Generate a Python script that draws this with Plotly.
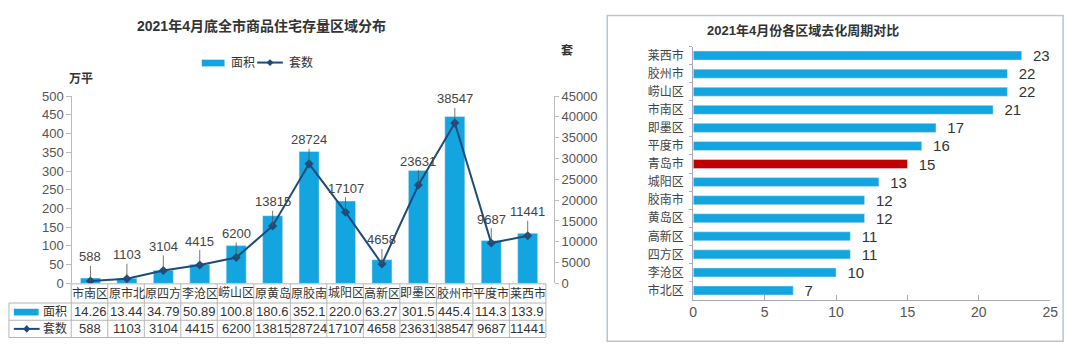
import plotly.graph_objects as go

W, H = 1080, 357
def fx(px): return px / W
def fy(py): return 1 - py / H

FONT = "Liberation Sans, Noto Sans CJK SC, sans-serif"

# ---- data ----
districts = ["市南区", "原市北", "原四方", "李沧区", "崂山区", "原黄岛", "原胶南",
             "城阳区", "高新区", "即墨区", "胶州市", "平度市", "莱西市"]
area = [14.26, 13.44, 34.79, 50.89, 100.8, 180.6, 352.1, 220.0, 63.27, 301.5, 445.4, 114.3, 133.9]
area_text = ["14.26", "13.44", "34.79", "50.89", "100.8", "180.6", "352.1", "220.0",
             "63.27", "301.5", "445.4", "114.3", "133.9"]
units = [588, 1103, 3104, 4415, 6200, 13815, 28724, 17107, 4658, 23631, 38547, 9687, 11441]

cycle_regions = ["莱西市", "胶州市", "崂山区", "市南区", "即墨区", "平度市", "青岛市",
                 "城阳区", "胶南市", "黄岛区", "高新区", "四方区", "李沧区", "市北区"]
cycle_months = [23, 22, 22, 21, 17, 16, 15, 13, 12, 12, 11, 11, 10, 7]

BLUE = "#12a5df"
NAVY = "#1f4b78"
RED = "#c00000"

fig = go.Figure()

# ---- left chart ----
fig.add_trace(go.Bar(x=districts, y=area, marker_color=BLUE, width=0.55,
                     xaxis="x", yaxis="y", showlegend=False, hoverinfo="skip"))
fig.add_trace(go.Scatter(x=districts, y=units, mode="lines+markers",
                         line=dict(color=NAVY, width=2),
                         marker=dict(symbol="diamond", size=7, color=NAVY),
                         xaxis="x", yaxis="y2", showlegend=False, hoverinfo="skip"))

# ---- right chart ----
colors = [RED if r == "青岛市" else BLUE for r in cycle_regions]
fig.add_trace(go.Bar(x=cycle_months, y=cycle_regions, orientation="h",
                     marker_color=colors, width=0.5,
                     text=[str(v) for v in cycle_months], textposition="outside",
                     texttemplate="  %{text}", constraintext="none",
                     textfont=dict(size=15, color="#333", family=FONT),
                     cliponaxis=False, xaxis="x3", yaxis="y3", showlegend=False,
                     hoverinfo="skip"))

annotations = []
shapes = []

def txt(xp, yp, text, size=13, color="#333", xanchor="center", xref="paper"):
    annotations.append(dict(x=xp, y=fy(yp), xref=xref, yref="paper", text=text,
                            showarrow=False, xanchor=xanchor, yanchor="middle",
                            font=dict(size=size, color=color, family=FONT)))

# line labels with leader lines
for d, u in zip(districts, units):
    annotations.append(dict(x=d, y=u, xref="x", yref="y2", text=str(u),
                            showarrow=True, arrowhead=0, arrowwidth=0.8,
                            arrowcolor="#555", ax=0, ay=-24,
                            font=dict(size=13, color="#444", family=FONT)))

# table
x_left, x_l2, x_right = 5, 68, 548
rows_y = [289, 309, 327, 345]
col_w = (x_right - x_l2) / len(districts)
line_style = dict(color="#b5b5b5", width=1)
for i in range(len(districts) + 1):
    xp = x_l2 + i * col_w
    shapes.append(dict(type="line", xref="paper", yref="paper",
                       x0=fx(xp), x1=fx(xp), y0=fy(rows_y[0]), y1=fy(rows_y[3]), line=line_style))
shapes.append(dict(type="line", xref="paper", yref="paper",
                   x0=fx(x_left), x1=fx(x_left), y0=fy(rows_y[1]), y1=fy(rows_y[3]), line=line_style))
for k, yy in enumerate(rows_y):
    x0 = x_l2 if k == 0 else x_left
    shapes.append(dict(type="line", xref="paper", yref="paper",
                       x0=fx(x0), x1=fx(x_right), y0=fy(yy), y1=fy(yy), line=line_style))

for d, a, u in zip(districts, area_text, units):
    txt(d, 299, d, size=12, xref="x")
    txt(d, 318, a, size=13, xref="x")
    txt(d, 336, str(u), size=13, xref="x")

# table legend column
shapes.append(dict(type="rect", xref="paper", yref="paper", x0=fx(10), x1=fx(35),
                   y0=fy(322), y1=fy(315), fillcolor=BLUE, line=dict(width=0)))
txt(fx(66), 318, "面积", size=12, xanchor="right")
shapes.append(dict(type="line", xref="paper", yref="paper", x0=fx(10), x1=fx(36),
                   y0=fy(336), y1=fy(336), line=dict(color=NAVY, width=2)))
shapes.append(dict(type="path", xref="paper", yref="paper",
                   path=f"M {fx(23)},{fy(332)} L {fx(26.5)},{fy(336)} L {fx(23)},{fy(340)} L {fx(19.5)},{fy(336)} Z",
                   fillcolor=NAVY, line=dict(width=0)))
txt(fx(66), 336, "套数", size=12, xanchor="right")

# top legend
shapes.append(dict(type="rect", xref="paper", yref="paper", x0=fx(200), x1=fx(223),
                   y0=fy(62), y1=fy(55), fillcolor=BLUE, line=dict(width=0)))
txt(fx(228), 58, "面积", size=12, xanchor="left")
shapes.append(dict(type="line", xref="paper", yref="paper", x0=fx(256), x1=fx(282),
                   y0=fy(58), y1=fy(58), line=dict(color=NAVY, width=2)))
shapes.append(dict(type="path", xref="paper", yref="paper",
                   path=f"M {fx(269)},{fy(54.5)} L {fx(272.5)},{fy(58)} L {fx(269)},{fy(61.5)} L {fx(265.5)},{fy(58)} Z",
                   fillcolor=NAVY, line=dict(width=0)))
txt(fx(286), 58, "套数", size=12, xanchor="left")

# titles / axis units
txt(fx(260), 20, "<b>2021年4月底全市商品住宅存量区域分布</b>", size=14)
txt(fx(78), 75, "<b>万平</b>", size=12)
txt(fx(569), 45, "<b>套</b>", size=12)
txt(fx(808), 25, "<b>2021年4月份各区域去化周期对比</b>", size=13)

# right panel border
shapes.append(dict(type="rect", xref="paper", yref="paper", x0=fx(610), x1=fx(1071),
                   y0=fy(349), y1=fy(9), line=dict(color="#b9c5d2", width=1.5)))

fig.update_layout(
    width=W, height=H, margin=dict(l=0, r=0, t=0, b=0),
    paper_bgcolor="white", plot_bgcolor="rgba(0,0,0,0)",
    font=dict(family=FONT, color="#555"),
    hovermode=False,
    xaxis=dict(domain=[fx(69), fx(548)], anchor="y", type="category",
               range=[-0.5, 12.5], showticklabels=False, showline=False,
               showgrid=False, zeroline=False, ticks=""),
    yaxis=dict(domain=[fy(288.5), fy(93)], anchor="x", range=[0, 500], dtick=50,
               showgrid=False, zeroline=False, showline=True, linecolor="#bbb",
               ticks="outside", ticklen=5, tickcolor="#bbb",
               tickfont=dict(size=13, color="#555", family=FONT)),
    yaxis2=dict(overlaying="y", side="right", anchor="free", position=fx(556),
                range=[0, 45000], dtick=5000, tickformat="d", showgrid=False, zeroline=False,
                showline=True, linecolor="#bbb", ticks="outside", ticklen=4, tickcolor="#bbb",
                tickfont=dict(size=13, color="#555", family=FONT)),
    xaxis3=dict(domain=[fx(697), fx(1058)], anchor="y3", range=[0, 25], dtick=5,
                showgrid=False, zeroline=False, showline=True, linecolor="#aab",
                ticks="inside", ticklen=5, tickcolor="#aab",
                tickfont=dict(size=14, color="#555", family=FONT)),
    yaxis3=dict(domain=[fy(305.4), fy(41.3)], anchor="x3", type="category",
                categoryorder="array", categoryarray=cycle_regions, autorange="reversed",
                showgrid=False, zeroline=False, showline=True, linecolor="#aab",
                ticks="outside", tickson="boundaries", ticklen=3, tickcolor="#aab",
                ticklabelstandoff=6,
                tickfont=dict(size=12, color="#444", family=FONT)),
    annotations=annotations, shapes=shapes,
)

fig.write_html("out.html", config={"displayModeBar": False, "staticPlot": True},
               post_script="document.body.style.margin='0';")
